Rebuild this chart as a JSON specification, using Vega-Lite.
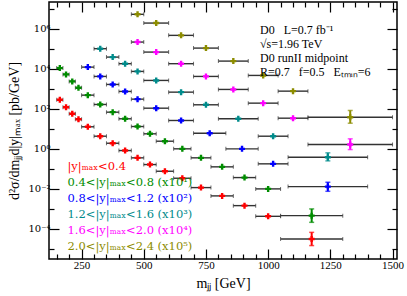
{
 "$schema": "https://vega.github.io/schema/vega-lite/v6.json",
 "width": 348, "height": 257,
 "autosize": "none",
 "padding": {"left": 49, "top": 2, "right": 10, "bottom": 37},
 "background": "white",
 "config": {
  "view": {"stroke": "black", "strokeWidth": 1.5},
  "font": "Liberation Serif",
  "axis": {"grid": false, "domain": false, "tickColor": "black", "tickWidth": 1.2, "labelFont": "Liberation Serif", "labelFontSize": 11, "labelColor": "black", "titleFont": "Liberation Serif", "titleFontWeight": "normal", "titleColor": "black"}
 },
 "title": {"text": ["D0\u00a0\u00a0\u00a0L=0.7 fb⁻¹", "√s=1.96 TeV", "D0 runII midpoint", "R=0.7\u00a0\u00a0\u00a0f=0.5\u00a0\u00a0\u00a0Eₜₘᵢₙ=6"], "anchor": "start", "frame": "group", "orient": "top", "baseline": "top", "align": "left", "dx": 211, "dy": 78, "offset": 0, "fontSize": 12, "fontWeight": "normal", "font": "Liberation Serif", "lineHeight": 14, "color": "black"},
 "data": {"values": [
  {"g": "0.0-0.4", "xlo": 150, "xhi": 175, "m": 162.5, "v": 282},
  {"g": "0.0-0.4", "xlo": 175, "xhi": 200, "m": 187.5, "v": 120},
  {"g": "0.0-0.4", "xlo": 200, "xhi": 225, "m": 212.5, "v": 56},
  {"g": "0.0-0.4", "xlo": 225, "xhi": 250, "m": 237.5, "v": 30},
  {"g": "0.0-0.4", "xlo": 250, "xhi": 300, "m": 275, "v": 12.6},
  {"g": "0.0-0.4", "xlo": 300, "xhi": 350, "m": 325, "v": 4.27},
  {"g": "0.0-0.4", "xlo": 350, "xhi": 400, "m": 375, "v": 1.9},
  {"g": "0.0-0.4", "xlo": 400, "xhi": 450, "m": 425, "v": 0.82},
  {"g": "0.0-0.4", "xlo": 450, "xhi": 500, "m": 475, "v": 0.355},
  {"g": "0.0-0.4", "xlo": 500, "xhi": 550, "m": 525, "v": 0.164},
  {"g": "0.0-0.4", "xlo": 550, "xhi": 620, "m": 585, "v": 0.076},
  {"g": "0.0-0.4", "xlo": 620, "xhi": 690, "m": 655, "v": 0.034},
  {"g": "0.0-0.4", "xlo": 690, "xhi": 770, "m": 730, "v": 0.0116},
  {"g": "0.0-0.4", "xlo": 770, "xhi": 860, "m": 815, "v": 0.00447},
  {"g": "0.0-0.4", "xlo": 860, "xhi": 950, "m": 905, "v": 0.00146},
  {"g": "0.0-0.4", "xlo": 950, "xhi": 1050, "m": 1000, "v": 0.000427},
  {"g": "0.0-0.4", "xlo": 1050, "xhi": 1300, "m": 1175, "v": 0.0000316, "ylo": 0.0000148, "yhi": 0.0000676},
  {"g": "0.4-0.8", "xlo": 150, "xhi": 175, "m": 162.5, "v": 10700},
  {"g": "0.4-0.8", "xlo": 175, "xhi": 200, "m": 187.5, "v": 5190},
  {"g": "0.4-0.8", "xlo": 200, "xhi": 225, "m": 212.5, "v": 2320},
  {"g": "0.4-0.8", "xlo": 225, "xhi": 250, "m": 237.5, "v": 1120},
  {"g": "0.4-0.8", "xlo": 250, "xhi": 300, "m": 275, "v": 479},
  {"g": "0.4-0.8", "xlo": 300, "xhi": 350, "m": 325, "v": 164},
  {"g": "0.4-0.8", "xlo": 350, "xhi": 400, "m": 375, "v": 67.6},
  {"g": "0.4-0.8", "xlo": 400, "xhi": 450, "m": 425, "v": 31.6},
  {"g": "0.4-0.8", "xlo": 450, "xhi": 500, "m": 475, "v": 13.0},
  {"g": "0.4-0.8", "xlo": 500, "xhi": 550, "m": 525, "v": 5.62},
  {"g": "0.4-0.8", "xlo": 550, "xhi": 620, "m": 585, "v": 2.4},
  {"g": "0.4-0.8", "xlo": 620, "xhi": 690, "m": 655, "v": 1.0},
  {"g": "0.4-0.8", "xlo": 690, "xhi": 770, "m": 730, "v": 0.355},
  {"g": "0.4-0.8", "xlo": 770, "xhi": 860, "m": 815, "v": 0.126},
  {"g": "0.4-0.8", "xlo": 860, "xhi": 950, "m": 905, "v": 0.0367},
  {"g": "0.4-0.8", "xlo": 950, "xhi": 1050, "m": 1000, "v": 0.01},
  {"g": "0.4-0.8", "xlo": 1050, "xhi": 1300, "m": 1175, "v": 0.000462, "ylo": 0.000214, "yhi": 0.001},
  {"g": "0.8-1.2", "xlo": 250, "xhi": 300, "m": 275, "v": 12000},
  {"g": "0.8-1.2", "xlo": 300, "xhi": 350, "m": 325, "v": 4120},
  {"g": "0.8-1.2", "xlo": 350, "xhi": 400, "m": 375, "v": 1640},
  {"g": "0.8-1.2", "xlo": 400, "xhi": 450, "m": 425, "v": 733},
  {"g": "0.8-1.2", "xlo": 450, "xhi": 500, "m": 475, "v": 302},
  {"g": "0.8-1.2", "xlo": 500, "xhi": 600, "m": 550, "v": 107},
  {"g": "0.8-1.2", "xlo": 600, "xhi": 700, "m": 650, "v": 26},
  {"g": "0.8-1.2", "xlo": 700, "xhi": 830, "m": 765, "v": 6.03},
  {"g": "0.8-1.2", "xlo": 830, "xhi": 960, "m": 895, "v": 1.0},
  {"g": "0.8-1.2", "xlo": 960, "xhi": 1080, "m": 1020, "v": 0.178},
  {"g": "0.8-1.2", "xlo": 1080, "xhi": 1400, "m": 1240, "v": 0.013, "ylo": 0.00759, "yhi": 0.0214},
  {"g": "1.2-1.6", "xlo": 300, "xhi": 350, "m": 325, "v": 100000},
  {"g": "1.2-1.6", "xlo": 350, "xhi": 400, "m": 375, "v": 38000},
  {"g": "1.2-1.6", "xlo": 400, "xhi": 450, "m": 425, "v": 17800},
  {"g": "1.2-1.6", "xlo": 450, "xhi": 500, "m": 475, "v": 7330},
  {"g": "1.2-1.6", "xlo": 500, "xhi": 600, "m": 550, "v": 2600},
  {"g": "1.2-1.6", "xlo": 600, "xhi": 700, "m": 650, "v": 676},
  {"g": "1.2-1.6", "xlo": 700, "xhi": 800, "m": 750, "v": 158},
  {"g": "1.2-1.6", "xlo": 800, "xhi": 960, "m": 880, "v": 31.6},
  {"g": "1.2-1.6", "xlo": 960, "xhi": 1080, "m": 1020, "v": 4.27},
  {"g": "1.2-1.6", "xlo": 1080, "xhi": 1400, "m": 1240, "v": 0.38, "ylo": 0.25, "yhi": 0.63},
  {"g": "1.6-2.0", "xlo": 450, "xhi": 500, "m": 475, "v": 214000},
  {"g": "1.6-2.0", "xlo": 500, "xhi": 600, "m": 550, "v": 67600},
  {"g": "1.6-2.0", "xlo": 600, "xhi": 700, "m": 650, "v": 17800},
  {"g": "1.6-2.0", "xlo": 700, "xhi": 800, "m": 750, "v": 4120},
  {"g": "1.6-2.0", "xlo": 800, "xhi": 920, "m": 860, "v": 923},
  {"g": "1.6-2.0", "xlo": 920, "xhi": 1040, "m": 980, "v": 191},
  {"g": "1.6-2.0", "xlo": 1040, "xhi": 1160, "m": 1100, "v": 33.9},
  {"g": "1.6-2.0", "xlo": 1160, "xhi": 1500, "m": 1330, "v": 1.64, "ylo": 0.92, "yhi": 3.16},
  {"g": "2.0-2.4", "xlo": 450, "xhi": 500, "m": 475, "v": 5190000},
  {"g": "2.0-2.4", "xlo": 500, "xhi": 600, "m": 550, "v": 1900000},
  {"g": "2.0-2.4", "xlo": 600, "xhi": 700, "m": 650, "v": 462000},
  {"g": "2.0-2.4", "xlo": 700, "xhi": 800, "m": 750, "v": 107000},
  {"g": "2.0-2.4", "xlo": 800, "xhi": 920, "m": 860, "v": 24000},
  {"g": "2.0-2.4", "xlo": 920, "xhi": 1040, "m": 980, "v": 4620},
  {"g": "2.0-2.4", "xlo": 1040, "xhi": 1160, "m": 1100, "v": 759},
  {"g": "2.0-2.4", "xlo": 1160, "xhi": 1500, "m": 1330, "v": 38, "ylo": 19, "yhi": 82.2}
 ]},
 "resolve": {"axis": {"x": "independent", "y": "independent"}},
 "layer": [
  {
   "mark": {"type": "rule", "color": "#333333", "strokeWidth": 1.4},
   "encoding": {
    "x": {"field": "xlo", "type": "quantitative", "scale": {"type": "linear", "domain": [119, 1518], "nice": false, "zero": false},
          "axis": {"orient": "bottom", "values": [250, 500, 750, 1000, 1250, 1500], "format": "d", "tickSize": -10, "labelPadding": 10, "title": "mⱼⱼ [GeV]", "titleFontSize": 14, "titlePadding": 6}},
    "x2": {"field": "xhi"},
    "y": {"field": "v", "type": "quantitative", "scale": {"type": "log", "domain": [3.16e-6, 2.14e7], "nice": false},
          "axis": {"orient": "left", "values": [0.0001, 0.01, 1, 100, 10000, 1000000], "tickSize": -10, "labelPadding": 9, "labelFont": "DejaVu Serif", "labelFontSize": 10,
                   "labelExpr": "datum.value > 5e5 ? '10⁶' : datum.value > 5e3 ? '10⁴' : datum.value > 50 ? '10²' : datum.value > 0.5 ? '10⁰' : datum.value > 0.005 ? '10⁻²' : '10⁻⁴'",
                   "title": "d²σ/dmⱼⱼd|y|ₘₐₓ [pb/GeV]", "titleFontSize": 14, "titlePadding": 6}}
   }
  },
  {
   "mark": {"type": "rule", "strokeWidth": 2},
   "encoding": {
    "x": {"field": "m", "type": "quantitative", "scale": {"type": "linear", "domain": [119, 1518], "nice": false, "zero": false},
          "axis": {"orient": "bottom", "values": [150, 200, 300, 350, 400, 450, 550, 600, 650, 700, 800, 850, 900, 950, 1050, 1100, 1150, 1200, 1300, 1350, 1400, 1450], "tickSize": -5, "labels": false, "title": null}},
    "y": {"field": "ylo", "type": "quantitative", "scale": {"type": "log", "domain": [3.16e-6, 2.14e7], "nice": false},
          "axis": {"orient": "left", "values": [0.00001, 0.001, 0.1, 10, 1000, 100000, 10000000], "tickSize": -5, "labels": false, "title": null}},
    "y2": {"field": "yhi"},
    "color": {"field": "g", "type": "nominal", "scale": {"domain": ["0.0-0.4", "0.4-0.8", "0.8-1.2", "1.2-1.6", "1.6-2.0", "2.0-2.4"], "range": ["#ff0000", "#008c00", "#0000ff", "#008b8b", "#ff00ff", "#8c8c00"]},
              "legend": {"orient": "none", "legendX": 7, "legendY": 159, "title": null, "symbolSize": 0, "symbolOpacity": 0, "symbolStrokeWidth": 0, "labelOffset": 0, "labelFontSize": 11.5, "labelFont": "DejaVu Serif", "rowPadding": 3, "padding": 0, "labelLimit": 300,
                         "labelExpr": "datum.value == '0.0-0.4' ? '|y|ₘₐₓ<0.4' : datum.value == '0.4-0.8' ? '0.4<|y|ₘₐₓ<0.8 (x10¹)' : datum.value == '0.8-1.2' ? '0.8<|y|ₘₐₓ<1.2 (x10²)' : datum.value == '1.2-1.6' ? '1.2<|y|ₘₐₓ<1.6 (x10³)' : datum.value == '1.6-2.0' ? '1.6<|y|ₘₐₓ<2.0 (x10⁴)' : '2.0<|y|ₘₐₓ<2.4 (x10⁵)'",
                         "encode": {"labels": {"update": {"fill": {"signal": "scale('color', datum.value)"}}}}}}
   }
  },
  {
   "mark": {"type": "tick", "orient": "vertical", "color": "#333333", "size": 4, "thickness": 1},
   "encoding": {
    "x": {"field": "xlo", "type": "quantitative", "scale": {"type": "linear", "domain": [119, 1518], "nice": false, "zero": false},
          "axis": {"orient": "top", "values": [250, 500, 750, 1000, 1250, 1500], "tickSize": -10, "labels": false, "title": null}},
    "y": {"field": "v", "type": "quantitative", "scale": {"type": "log", "domain": [3.16e-6, 2.14e7], "nice": false},
          "axis": {"orient": "right", "values": [0.0001, 0.01, 1, 100, 10000, 1000000], "tickSize": -10, "labels": false, "title": null}}
   }
  },
  {
   "mark": {"type": "tick", "orient": "vertical", "color": "#333333", "size": 4, "thickness": 1},
   "encoding": {
    "x": {"field": "xhi", "type": "quantitative", "scale": {"type": "linear", "domain": [119, 1518], "nice": false, "zero": false},
          "axis": {"orient": "top", "values": [150, 200, 300, 350, 400, 450, 550, 600, 650, 700, 800, 850, 900, 950, 1050, 1100, 1150, 1200, 1300, 1350, 1400, 1450], "tickSize": -5, "labels": false, "title": null}},
    "y": {"field": "v", "type": "quantitative", "scale": {"type": "log", "domain": [3.16e-6, 2.14e7], "nice": false},
          "axis": {"orient": "right", "values": [0.00001, 0.001, 0.1, 10, 1000, 100000, 10000000], "tickSize": -5, "labels": false, "title": null}}
   }
  },
  {
   "mark": {"type": "tick", "orient": "horizontal", "size": 5, "thickness": 1.5},
   "encoding": {
    "x": {"field": "m", "type": "quantitative", "axis": null},
    "y": {"field": "ylo", "type": "quantitative", "axis": null},
    "color": {"field": "g", "type": "nominal", "legend": null}
   }
  },
  {
   "mark": {"type": "tick", "orient": "horizontal", "size": 5, "thickness": 1.5},
   "encoding": {
    "x": {"field": "m", "type": "quantitative", "axis": null},
    "y": {"field": "yhi", "type": "quantitative", "axis": null},
    "color": {"field": "g", "type": "nominal", "legend": null}
   }
  },
  {
   "mark": {"type": "point", "shape": "cross", "filled": true, "size": 36, "opacity": 1},
   "encoding": {
    "x": {"field": "m", "type": "quantitative", "axis": null},
    "y": {"field": "v", "type": "quantitative", "axis": null},
    "color": {"field": "g", "type": "nominal", "legend": null}
   }
  }
 ]
}
